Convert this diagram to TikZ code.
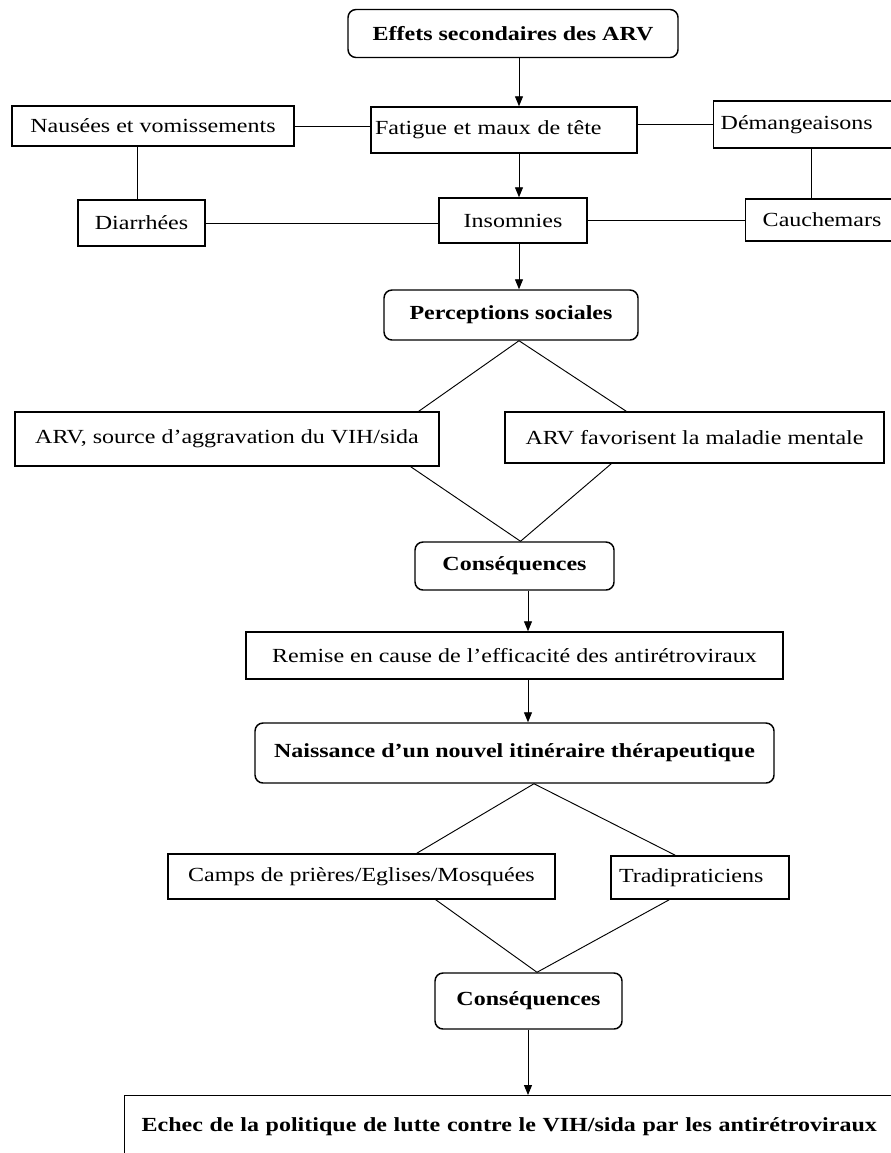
\documentclass[tikz,border=0pt]{standalone}
\usepackage{fontspec}
\setmainfont{Liberation Serif}[FakeStretch=1.2]
\usepackage{tikz}
\usetikzlibrary{arrows.meta}
\usetikzlibrary{calc}

\begin{document}
\begin{tikzpicture}[x=0.75pt,y=0.75pt,yscale=-1,xscale=1,
  box/.style={draw, line width=1.1pt, inner sep=0pt, font=\fontsize{15}{18}\selectfont},
  rbox/.style={box, rounded corners=6pt, font=\fontsize{15}{18}\selectfont\bfseries},
  link/.style={line width=0.7pt},
  flow/.style={link, -{Triangle[length=7.5pt,width=6pt]}}]
\path[use as bounding box] (0,0) rectangle (891,1153);
\clip (0,0) rectangle (891,1153);
\coordinate (lcol) at (137.5,0);
\coordinate (col1) at (519,0);
\coordinate (col2) at (528,0);
\coordinate (rcol) at (811,0);
\node[rbox, minimum width=247.5pt, minimum height=36pt] (effets) at (513,33.5) {Effets secondaires des ARV};
\node[box, inner xsep=3pt, text width=193.5pt, align=left, minimum height=34.5pt] (fatigue) at (504,130) {Fatigue et maux de tête};
\node[box, minimum width=211.5pt, minimum height=30pt] (nausees) at (153,126) {Nausées et vomissements};
\node[box, anchor=west, inner xsep=5.25pt, text width=129.75pt, align=left, minimum height=35.25pt] (demang) at (713,124.5) {Démangeaisons};
\node[box, minimum width=95.25pt, minimum height=34.5pt] (diarrhees) at (141.5,223) {Diarrhées};
\node[box, minimum width=111pt, minimum height=33.75pt] (insomnies) at (513,220.5) {Insomnies};
\node[box, anchor=west, inner xsep=12.75pt, text width=92pt, align=left, minimum height=31.5pt] (cauchemars) at (745,220) {Cauchemars};
\node[rbox, minimum width=190.5pt, minimum height=37.5pt] (perceptions) at (511,315) {Perceptions sociales};
\node[box, minimum width=318pt, minimum height=40.5pt] (arvsrc) at (227,439) {ARV, source d’aggravation du VIH/sida};
\node[box, minimum width=284.25pt, minimum height=38.25pt] (arvfav) at (694.5,437.5) {ARV favorisent la maladie mentale};
\node[rbox, minimum width=149.25pt, minimum height=36pt] (conseqa) at (514.5,566) {Conséquences};
\node[box, minimum width=402.75pt, minimum height=35.25pt] (remise) at (514.5,655.5) {Remise en cause de l’efficacité des antirétroviraux};
\node[rbox, minimum width=389.25pt, minimum height=45pt] (naissance) at (514.5,753) {Naissance d’un nouvel itinéraire thérapeutique};
\node[box, minimum width=290.25pt, minimum height=33.75pt] (camps) at (361.5,876.5) {Camps de prières/Eglises/Mosquées};
\node[box, inner xsep=6pt, text width=121.5pt, align=left, minimum height=32.25pt] (tradi) at (700,877.5) {Tradipraticiens};
\node[rbox, minimum width=140.25pt, minimum height=42pt] (conseqb) at (528.5,1001) {Conséquences};
\node[box, anchor=north west, inner xsep=12.75pt, inner ysep=15pt, text height=12pt, text depth=40pt, text width=556pt, align=left, font=\fontsize{15}{18}\selectfont\bfseries] (echec) at (124,1095) {Echec de la politique de lutte contre le VIH/sida par les antirétroviraux};
\draw[flow] (effets.south -| col1) -- (fatigue.north -| col1);
\draw[link] (nausees.east) -- (nausees.east -| fatigue.west);
\draw[link] (demang.west -| fatigue.east) -- (demang.west);
\draw[link] (nausees.south -| lcol) -- (diarrhees.north -| lcol);
\draw[flow] (fatigue.south -| col1) -- (insomnies.north -| col1);
\draw[link] (diarrhees.east) -- (diarrhees.east -| insomnies.west);
\draw[link] (insomnies.east) -- (insomnies.east -| cauchemars.west);
\draw[link] (demang.south -| rcol) -- (cauchemars.north -| rcol);
\draw[flow] (insomnies.south -| col1) -- (perceptions.north -| col1);
\draw[link] ($(arvsrc.north east)+(-21,0)$) -- (perceptions.south -| col1) -- ($(arvfav.north west)+(122,0)$);
\draw[link] ($(arvsrc.south east)+(-29,0)$) -- ($(conseqa.north)+(6,0)$) -- ($(arvfav.south west)+(107,0)$);
\draw[flow] (conseqa.south -| col2) -- (remise.north -| col2);
\draw[flow] (remise.south -| col2) -- (naissance.north -| col2);
\draw[link] ($(camps.north east)+(-139,0)$) -- ($(naissance.south)+(19.5,0)$) -- ($(tradi.north west)+(65,0)$);
\draw[link] ($(camps.south east)+(-120,0)$) -- ($(conseqb.north)+(8.5,0)$) -- ($(tradi.south west)+(59,0)$);
\draw[flow] (conseqb.south -| col2) -- (echec.north -| col2);
\end{tikzpicture}
\end{document}
